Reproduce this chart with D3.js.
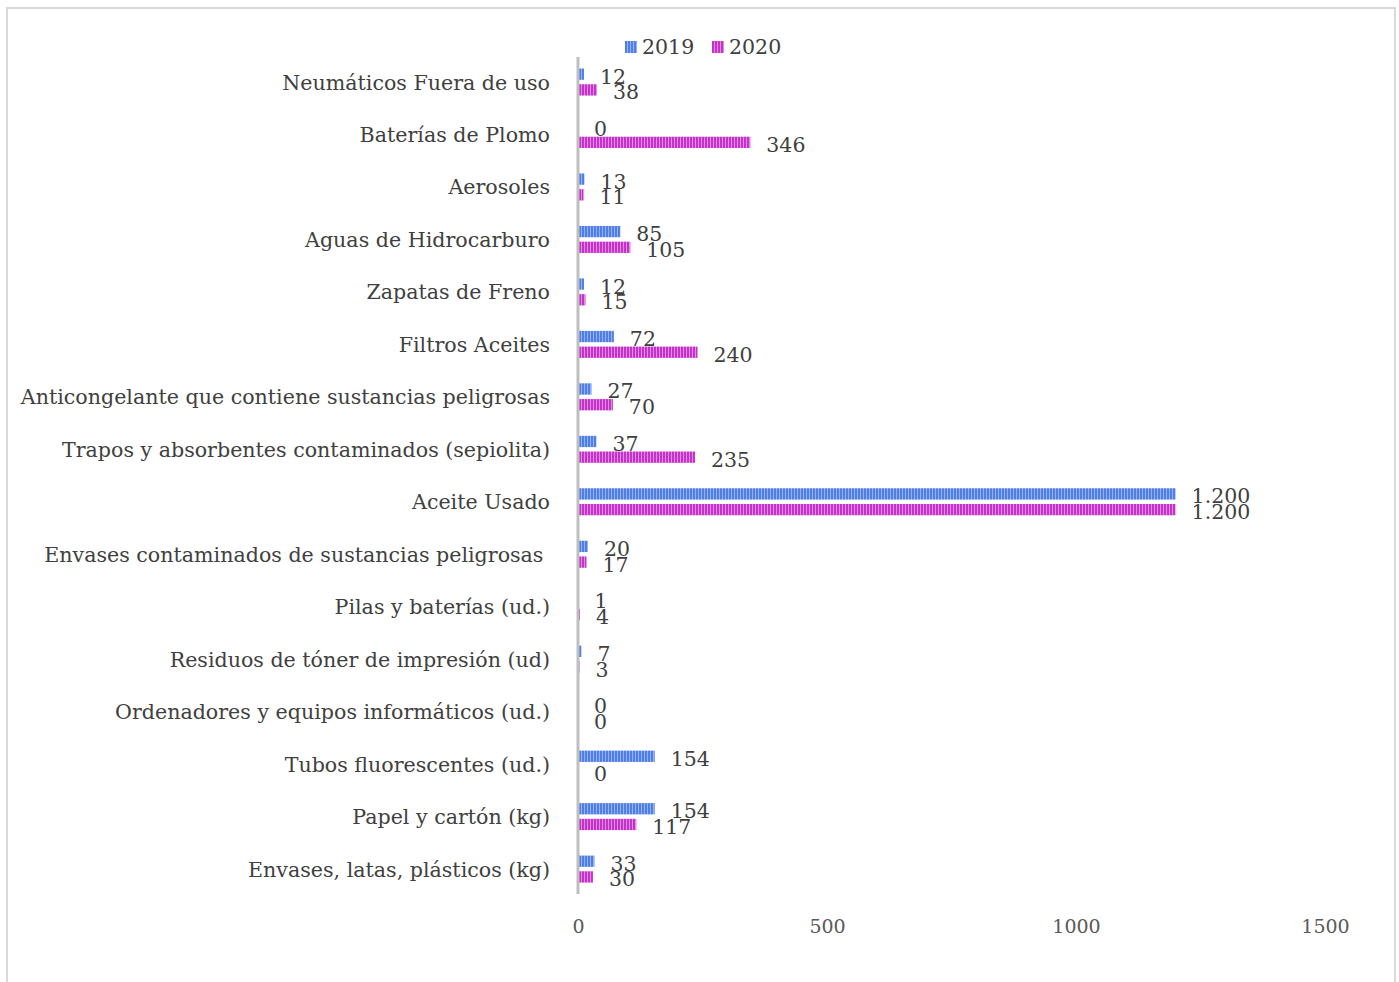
<!DOCTYPE html>
<html>
<head>
<meta charset="utf-8">
<script src="https://cdn.jsdelivr.net/npm/d3@7"></script>
<style>
  html, body { margin: 0; padding: 0; background: #fff; }
  svg { display: block; }
</style>
</head>
<body>
<svg id="chart" width="1399" height="982"></svg>
<script>
const categories = [
  "Neumáticos Fuera de uso",
  "Baterías de Plomo",
  "Aerosoles",
  "Aguas de Hidrocarburo",
  "Zapatas de Freno",
  "Filtros Aceites",
  "Anticongelante que contiene sustancias peligrosas",
  "Trapos y absorbentes contaminados (sepiolita)",
  "Aceite Usado",
  "Envases contaminados de sustancias peligrosas\u00a0",
  "Pilas y baterías (ud.)",
  "Residuos de tóner de impresión (ud)",
  "Ordenadores y equipos informáticos (ud.)",
  "Tubos fluorescentes (ud.)",
  "Papel y cartón (kg)",
  "Envases, latas, plásticos (kg)"
];
const values2019 = [12, 0, 13, 85, 12, 72, 27, 37, 1200, 20, 1, 7, 0, 154, 154, 33];
const values2020 = [38, 346, 11, 105, 15, 240, 70, 235, 1200, 17, 4, 3, 0, 0, 117, 30];
const seriesNames = ["2019", "2020"];
const xTicks = [0, 500, 1000, 1500];

const svg = d3.select("#chart");
const FONT = "'DejaVu Serif', Georgia, serif";

// border
svg.append("rect").attr("x", 7).attr("y", 8).attr("width", 1388).attr("height", 990)
  .attr("fill", "#fff").attr("stroke", "#d9d9d9").attr("stroke-width", 2);

// patterns
const defs = svg.append("defs");
const pat = [
  {id: "p2019", dark: "#4f7fe6", light: "#94b2f4"},
  {id: "p2020", dark: "#c433c8", light: "#e38ae6"}
];
pat.forEach(p => {
  const pt = defs.append("pattern").attr("id", p.id).attr("patternUnits", "userSpaceOnUse")
    .attr("width", 3).attr("height", 10);
  pt.append("rect").attr("width", 3).attr("height", 10).attr("fill", p.dark);
  pt.append("rect").attr("x", 2).attr("width", 1).attr("height", 10).attr("fill", p.light);
});

const x = d3.scaleLinear().domain([0, 1500]).range([578, 1325]);
const y0 = d3.scaleBand().domain(categories).range([55.8, 895.3]).paddingInner(0.485).paddingOuter(0.2425);
const y1 = d3.scaleBand().domain(seriesNames).range([0, y0.bandwidth()]).paddingInner(0.28);

const locale = d3.formatLocale({decimal: ",", thousands: ".", grouping: [3], currency: ["", "€"]});
const fmt = locale.format(",d");

const data = categories.map((c, i) => ({cat: c, vals: [values2019[i], values2020[i]]}));

const groups = svg.append("g").selectAll("g").data(data).join("g")
  .attr("transform", d => `translate(0,${y0(d.cat)})`);

groups.selectAll("rect").data(d => d.vals.map((v, k) => ({v, s: seriesNames[k], k}))).join("rect")
  .attr("x", x(0))
  .attr("y", d => y1(d.s))
  .attr("width", d => x(d.v) - x(0))
  .attr("height", y1.bandwidth())
  .attr("fill", d => `url(#${pat[d.k].id})`);

groups.selectAll("text").data(d => d.vals.map((v, k) => ({v, s: seriesNames[k], k}))).join("text")
  .attr("x", d => x(d.v) + 16)
  .attr("y", d => y1(d.s) + y1.bandwidth() / 2 + 4)
  .attr("dominant-baseline", "middle")
  .attr("font-family", FONT).attr("font-size", 20.5).attr("fill", "#404040")
  .text(d => fmt(d.v));

// category labels
svg.append("g").selectAll("text").data(categories).join("text")
  .attr("x", 550)
  .attr("y", d => y0(d) + y0.bandwidth() / 2 + 2)
  .attr("text-anchor", "end")
  .attr("dominant-baseline", "middle")
  .attr("font-family", FONT).attr("font-size", 20.6).attr("fill", "#404040")
  .text(d => d);

// vertical axis line
svg.append("line").attr("x1", x(0)).attr("x2", x(0)).attr("y1", 57).attr("y2", 894)
  .attr("stroke", "#bfbfbf").attr("stroke-width", 3);

// x axis ticks (no line)
const xAxis = d3.axisBottom(x).tickValues(xTicks).tickSize(0).tickPadding(0).tickFormat(d3.format("d"));
const xg = svg.append("g").attr("transform", "translate(0,928)").call(xAxis);
xg.select(".domain").remove();
xg.selectAll("text").attr("font-family", FONT).attr("font-size", 19).attr("fill", "#595959")
  .attr("dy", null).attr("dominant-baseline", "middle");

// legend
const leg = svg.append("g").attr("transform", "translate(625,47)");
const legX = [0, 87];
seriesNames.forEach((s, k) => {
  const g = leg.append("g").attr("transform", `translate(${legX[k]},0)`);
  g.append("rect").attr("x", 0).attr("y", -6).attr("width", 12).attr("height", 12).attr("fill", `url(#${pat[k].id})`);
  g.append("text").attr("x", 17).attr("y", 1).attr("dominant-baseline", "middle")
    .attr("font-family", FONT).attr("font-size", 20.5).attr("fill", "#404040").text(s);
});
</script>
</body>
</html>
